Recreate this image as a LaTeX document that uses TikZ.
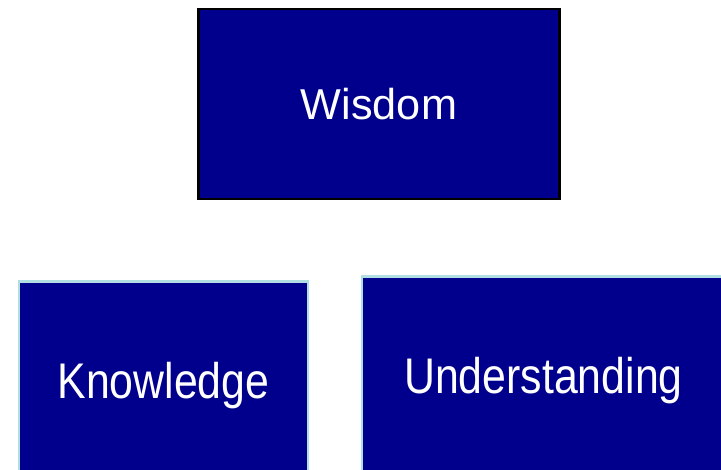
\documentclass[tikz,border=0pt]{standalone}
\usepackage{fontspec}
\setmainfont{Liberation Sans}
\newfontfamily\narrowfont{Liberation Sans}[FakeStretch=0.855]
\usepackage{tikz}
\usetikzlibrary{positioning}
\definecolor{boxnavy}{RGB}{0,0,140}
\definecolor{edgeblue}{RGB}{176,222,226}
\tikzset{
  topbox/.style={draw=black, line width=1.6pt, fill=boxnavy, text=white,
    inner sep=0pt, minimum width=7.22cm, minimum height=3.8cm,
    text height=17.6pt, text depth=0pt,
    font=\fontsize{24.6}{28}\selectfont},
  basebox/.style={draw=edgeblue, line width=1.6pt, fill=boxnavy, text=white,
    inner sep=0pt, minimum height=3.96cm,
    text height=20.3pt, text depth=0pt,
    font=\narrowfont\fontsize{28.5}{32}\selectfont},
}

\begin{document}
\begin{tikzpicture}[x=0.02cm, y=-0.02cm]
    \useasboundingbox (0,0) rectangle (721,470);
    \clip (0,0) rectangle (721,470);
    % --- top: wisdom ---
    \node[topbox] (wisdom) at (379,104) {Wisdom};
    % --- bottom row, running off the page ---
    \node[basebox, minimum width=5.78cm] (knowledge) at (163.5,380.5) {Knowledge};
    \node[basebox, minimum width=7.26cm] (understanding)
      at (543.5,375.5) {Understanding};
  \end{tikzpicture}
\end{document}
